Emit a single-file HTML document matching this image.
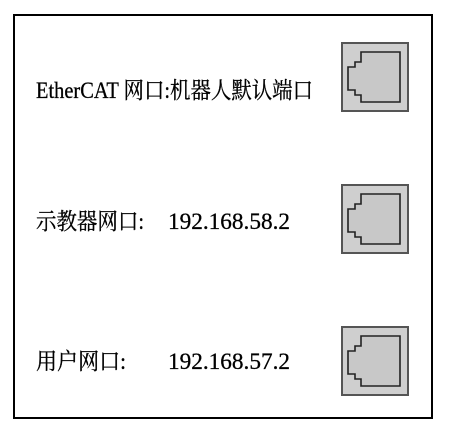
<!DOCTYPE html>
<html><head><meta charset="utf-8"><style>
html,body{margin:0;padding:0;background:#fff;}
svg{display:block}
text{font-family:"Liberation Serif","Noto Serif CJK SC","Noto Sans CJK SC",serif;font-size:23px;fill:#000;stroke:#000;stroke-width:0.3;}
</style></head><body>
<svg width="449" height="438" viewBox="0 0 449 438">
<rect x="14" y="15" width="418" height="403" fill="#fff" stroke="#000" stroke-width="2"/>
<defs>
<g id="port">
<rect x="0" y="0" width="66" height="68" fill="#cfcfcf" stroke="#555" stroke-width="2"/>
<path d="M19 9 H58 V59 H19 V52 H13 V47 H6 V24 H13 V19 H19 Z" fill="#c8c8c8" stroke="#222" stroke-width="1.6"/>
</g>
</defs>
<use href="#port" x="342" y="43"/>
<use href="#port" x="342" y="185"/>
<use href="#port" x="342" y="327"/>
<text x="36" y="98" textLength="277" lengthAdjust="spacingAndGlyphs">EtherCAT 网口:机器人默认端口</text>
<text x="36" y="229" textLength="108" lengthAdjust="spacingAndGlyphs">示教器网口:</text>
<text x="168" y="229" textLength="122" lengthAdjust="spacingAndGlyphs">192.168.58.2</text>
<text x="36" y="369" textLength="90" lengthAdjust="spacingAndGlyphs">用户网口:</text>
<text x="168" y="369" textLength="122" lengthAdjust="spacingAndGlyphs">192.168.57.2</text>
</svg>
</body></html>
